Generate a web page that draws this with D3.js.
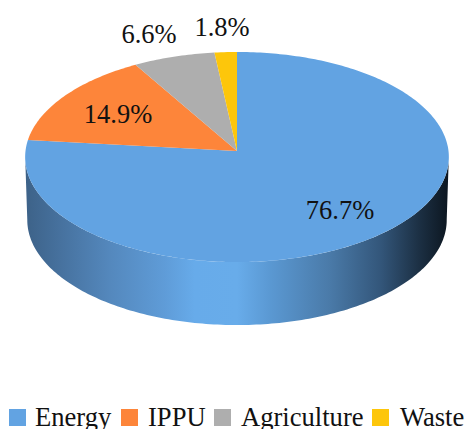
<!DOCTYPE html>
<html>
<head>
<meta charset="utf-8">
<script src="https://cdnjs.cloudflare.com/ajax/libs/d3/7.8.5/d3.min.js"></script>
<style>
    html, body { margin: 0; padding: 0; background: #fff; overflow: hidden; }
    text { font-family: "Liberation Serif", serif; fill: #111; }
</style>
</head>
<body>
<div id="chart"></div>
<script>
const categories = ["Energy", "IPPU", "Agriculture", "Waste"];
const shares = [76.7, 14.9, 6.6, 1.8];
const colours = ["#62a3e2", "#fd853a", "#aeaeae", "#fdc60b"];

const width = 467, height = 429;
const svg = d3.select("#chart").append("svg")
    .attr("width", width)
    .attr("height", height)
    .style("display", "block");

//Tilted disc: the far side is foreshortened a little more than the near side
const centre = {x: 237, y: 151};
const radiusX = 211.5, radiusY = 104.7, tilt = 0.0571, depth = 63;

function rim(angle, shrink) {
    const k = 1 + tilt * Math.cos(angle);
    return [
        centre.x + shrink * radiusX * Math.sin(angle) / k,
        centre.y - radiusY * Math.cos(angle) / k
    ];
}

const line = d3.line();
const pie = d3.pie().sort(null);
const slices = pie(shares);

//Side wall shading
const wallStops = [
    [0, "#3d6288"], [0.07, "#456f9b"], [0.2, "#5488bd"], [0.33, "#5f9cd8"], [0.4, "#67abea"],
    [0.5, "#68acea"], [0.58, "#5a98d2"], [0.72, "#4a7aa8"], [0.84, "#33567a"], [0.93, "#1c3044"], [1, "#0c1620"]
];
const gradient = svg.append("defs").append("linearGradient")
    .attr("id", "wall")
    .attr("gradientUnits", "userSpaceOnUse")
    .attr("x1", centre.x - radiusX).attr("x2", centre.x + radiusX)
    .attr("y1", 0).attr("y2", 0);
gradient.selectAll("stop")
    .data(wallStops)
    .enter().append("stop")
    .attr("offset", d => d[0])
    .attr("stop-color", d => d[1]);

//Side wall runs along the near half of the rim, from the widest point on each side
const nearAngles = d3.range(93, 267.5, 1).map(d => d * Math.PI / 180);
const upper = nearAngles.map(a => rim(a, 1));
const lower = nearAngles.map(a => {
    const p = rim(a, 0.99);
    return [p[0], p[1] + depth];
}).reverse();
svg.append("path")
    .attr("d", line(upper.concat(lower)) + "Z")
    .attr("fill", "url(#wall)");

//Top face
svg.append("g").selectAll("path")
    .data(slices)
    .enter().append("path")
    .attr("fill", (d, i) => colours[i])
    .attr("d", d => {
        const steps = Math.max(2, Math.ceil((d.endAngle - d.startAngle) * 60));
        const pts = d3.range(steps + 1).map(i =>
            rim(d.startAngle + (d.endAngle - d.startAngle) * i / steps, 1));
        return line([[centre.x, centre.y]].concat(pts)) + "Z";
    });

//Value labels
const labelSpots = [[340, 219], [118, 123], [149, 43], [222, 36]];
svg.append("g").selectAll("text")
    .data(shares)
    .enter().append("text")
    .attr("x", (d, i) => labelSpots[i][0])
    .attr("y", (d, i) => labelSpots[i][1])
    .attr("text-anchor", "middle")
    .style("font-size", "26.5px")
    .text(d => d.toFixed(1) + "%");

//Legend, cut off by the bottom of the page
const legendX = [9, 121, 214, 372];
const legendTextX = [35, 148, 241, 400];
const legend = svg.append("g").selectAll("g")
    .data(categories)
    .enter().append("g");
legend.append("rect")
    .attr("x", (d, i) => legendX[i])
    .attr("y", 409)
    .attr("width", 17)
    .attr("height", 17)
    .attr("fill", (d, i) => colours[i]);
legend.append("text")
    .attr("x", (d, i) => legendTextX[i])
    .attr("y", 426)
    .style("font-size", "26.6px")
    .text(d => d);
</script>
</body>
</html>
